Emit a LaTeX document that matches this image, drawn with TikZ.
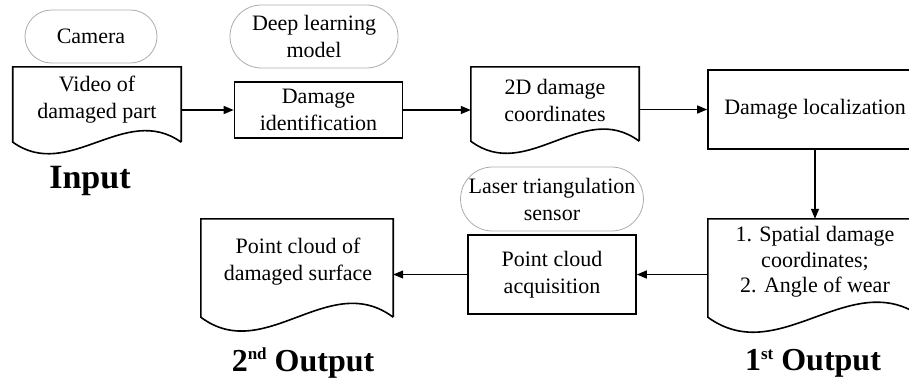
\documentclass[tikz,border=0pt]{standalone}
\usepackage{fontspec}
\setmainfont{Liberation Serif}
\usetikzlibrary{arrows.meta,calc,shapes.misc}
\newcommand{\docwave}[2]{%
  \draw[boxline] (#1.south east) -- (#1.north east) -- (#1.north west) -- (#1.south west)
    .. controls ($(#1.south west)!1/3!(#1.south east)+(0,#2)$) and ($(#1.south west)!2/3!(#1.south east)+(0,-#2)$) .. (#1.south east);}
\newcommand{\supsc}[1]{\raisebox{11bp}{\fontsize{17bp}{17bp}\selectfont #1}}
\begin{document}
\begin{tikzpicture}[x=1bp,y=-1bp,
  every node/.style={font=\fontsize{22bp}{27bp}\selectfont, align=center, inner sep=0pt},
  boxline/.style={line width=1.6bp, black},
  pill/.style={draw=gray!65, line width=0.8bp, rounded rectangle, minimum width=#1, inner sep=0pt},
  procbox/.style={draw, line width=1.6bp, rectangle},
  docarea/.style={rectangle, inner sep=0pt},
  conn/.style={line width=1.3bp, -{Triangle[length=10bp,width=8bp]}},
  biglabel/.style={font=\fontsize{32bp}{36bp}\selectfont\bfseries}
]
\useasboundingbox (0,0) rectangle (909,379);
\clip (0,0) rectangle (909,379);

% pills
\node[pill=132bp, minimum height=53bp] (camera) at (91,36.5) {Camera};
\node[pill=168bp, minimum height=63bp] (dlm) at (314,36.5) {Deep learning\\model};
\node[pill=168bp, minimum height=64bp] (laser) at (552,199) {Laser triangulation\\sensor};

% document areas
\node[docarea, minimum width=168bp, minimum height=75bp] (vid) at (97,104.5) {};
\node (vidtxt) at (97,100) {Video of\\damaged part};
\docwave{vid}{40}

\node[docarea, minimum width=168bp, minimum height=74bp] (coord) at (555,104) {};
\node (coordtxt) at (555,100) {2D damage\\coordinates};
\docwave{coord}{42}

\node[docarea, minimum width=214bp, minimum height=98bp] (out1) at (815,268) {};
\node[font=\fontsize{22bp}{25.5bp}\selectfont] (out1txt) at (815,262) {1. Spatial damage\\coordinates;\\2. Angle of wear};
\docwave{out1}{52}

\node[docarea, minimum width=192bp, minimum height=98bp] (out2) at (297,268) {};
\node (out2txt) at (298,262) {Point cloud of\\damaged surface};
\docwave{out2}{48}

% process boxes
\node[procbox, minimum width=168bp, minimum height=56bp] (ident) at (318.5,110) {Damage\\identification};
\node[procbox, minimum width=214bp, minimum height=79bp] (loc) at (815,109.5) {Damage localization};
\node[procbox, minimum width=168bp, minimum height=79bp] (pca) at (552,274.5) {Point cloud\\acquisition};

% connectors
\draw[conn] (vid.east |- ident.west) -- (ident.west);
\draw[conn] (ident.east) -- (ident.east -| coord.west);
\draw[conn] (coord.east |- loc.west) -- (loc.west);
\draw[conn] (loc.south) -- (out1.north);
\draw[conn] (out1.west |- pca.east) -- (pca.east);
\draw[conn] (pca.west) -- (pca.west -| out2.east);

% labels
\node[biglabel, font=\fontsize{34bp}{38bp}\selectfont\bfseries] (inlab) at (90,181) {Input};
\node[biglabel] (out2lab) at (303,363) {2\supsc{nd} Output};
\node[biglabel] (out1lab) at (813,363) {1\supsc{st} Output};
\end{tikzpicture}
\end{document}
